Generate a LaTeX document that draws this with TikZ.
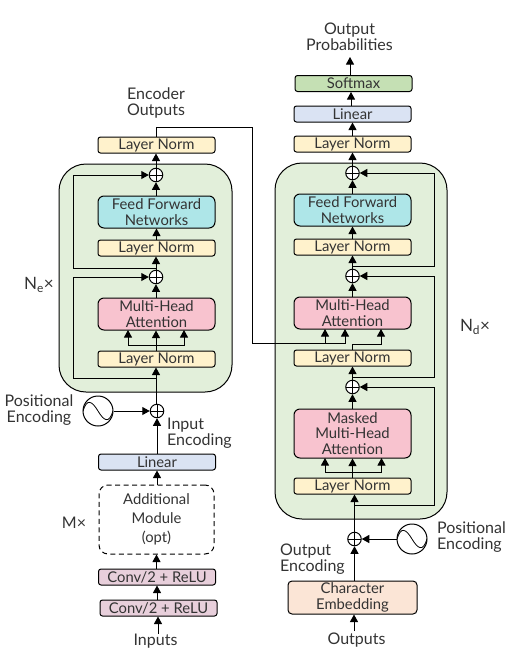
\documentclass[tikz,border=0pt]{standalone}
\usepackage{fontspec}
\setmainfont{Lato}
\usetikzlibrary{arrows.meta,calc}
\definecolor{lnfill}{HTML}{FFF2CC}
\definecolor{fffill}{HTML}{AEE6E8}
\definecolor{mhfill}{HTML}{F8C3CF}
\definecolor{lifill}{HTML}{DAE3F3}
\definecolor{smfill}{HTML}{C5E0B4}
\definecolor{grfill}{HTML}{E2EFDA}
\definecolor{cvfill}{HTML}{E8CFDB}
\definecolor{chfill}{HTML}{FBE5D6}
\definecolor{txt}{HTML}{333333}
\tikzset{
  every node/.style={text=txt,font=\fontsize{14.8}{15.5}\selectfont,align=center,inner sep=0pt},
  lab/.style={font=\fontsize{16}{16}\selectfont},
  box/.style={draw=black,line width=1pt,rounded corners=2.5pt,minimum width=117pt,minimum height=16pt},
  ln/.style={box,fill=lnfill},
  big/.style={box,rounded corners=6pt,minimum height=32pt},
  ffn/.style={big,fill=fffill},
  mha/.style={big,fill=mhfill},
  lin/.style={box,fill=lifill},
  conv/.style={box,fill=cvfill},
  group/.style={draw=black,line width=1pt,fill=grfill,rounded corners=27pt},
  addb/.style={circle,draw=black,line width=1pt,fill=white,minimum size=13.5pt,
    path picture={\draw[line width=0.8pt] (path picture bounding box.north)--(path picture bounding box.south)
      (path picture bounding box.west)--(path picture bounding box.east);}},
  sine/.style={circle,draw=black,line width=1pt,fill=white,minimum size=30pt,
    path picture={\draw[line width=0.8pt] ($(path picture bounding box.center)+(-15,0)$)
      .. controls +(4,-13) and +(-6,-10) .. (path picture bounding box.center)
      .. controls +(6,10) and +(-4,13) .. ($(path picture bounding box.center)+(15,0)$);}},
  arr/.style={line width=1pt,-{Triangle[length=7.5pt,width=8pt]}},
  wire/.style={line width=1pt},
}
\begin{document}
\begin{tikzpicture}[x=1pt,y=-1pt]
\useasboundingbox (0,0) rectangle (505,662);
% groups
\node[group,minimum width=173pt,minimum height=228pt] (encg) at (145.5,278) {};
\node[group,minimum width=172pt,minimum height=356pt] (decg) at (361,341) {};
% encoder
\node[ln] (e5) at (156.5,145) {Layer Norm};
\node[addb] (ep2) at (156,175) {};
\node[ffn] (effn) at (156.5,212) {Feed Forward\\Networks};
\node[ln] (e4) at (156.5,248) {Layer Norm};
\node[addb] (ep1) at (156,277) {};
\node[mha] (emha) at (156.5,314) {Multi-Head\\Attention};
\node[ln] (e3) at (156.5,359) {Layer Norm};
\node[addb] (epe) at (157,411) {};
\node[sine] (esin) at (98,411) {};
\node[lin] (elin) at (157,462) {Linear};
\node[box,dash pattern=on 5pt off 3.5pt,rounded corners=9pt,minimum height=69pt,minimum width=115pt] (eadd) at (156.5,519.5) {Additional\\[3.5pt]Module\\[3.5pt](opt)};
\node[conv] (ec2) at (157,577) {Conv/2 + ReLU};
\node[conv] (ec1) at (158.5,608) {Conv/2 + ReLU};
\node[lab] (einp) at (155.5,641.5) {Inputs};
\node[lab] (eout) at (156,103) {Encoder\\Outputs};
\node[lab] (epos) at (39,410.5) {Positional\\Encoding};
\node[lab,anchor=west] (einc) at (167,433.5) {\parbox{80pt}{Input\\Encoding}};
\node[lab] (em) at (74,523) {M×};
\node (ene) at (39,285) {\fontsize{17}{17}\selectfont N\textsubscript{e}×};
% decoder
\node[lab] (dout) at (349.5,37) {Output\\Probabilities};
\node[box,fill=smfill] (dsm) at (353.5,83.5) {Softmax};
\node[lin] (dlin) at (352.5,114) {Linear};
\node[ln] (d6) at (352.5,144) {Layer Norm};
\node[addb] (dp3) at (352.5,173) {};
\node[ffn] (dffn) at (352.5,210) {Feed Forward\\Networks};
\node[ln] (d5) at (352.5,247) {Layer Norm};
\node[addb] (dp2) at (352.5,276) {};
\node[mha] (dmha) at (352.5,313) {Multi-Head\\Attention};
\node[ln] (d4) at (352.5,358) {Layer Norm};
\node[addb] (dp1) at (352.5,387) {};
\node[mha,minimum height=49pt] (dmask) at (352.5,433.5) {Masked\\Multi-Head\\Attention};
\node[ln] (d3) at (352.5,486) {Layer Norm};
\node[addb] (dpe) at (354.5,539) {};
\node[sine] (dsin) at (412,539) {};
\node[box,fill=chfill,rounded corners=4pt,minimum width=129pt,minimum height=33pt] (dch) at (352.5,597.5) {Character\\Embedding};
\node[lab] (dinp) at (356.5,640.5) {Outputs};
\node[lab,anchor=west] (dposl) at (437,537) {\parbox{80pt}{Positional\\Encoding}};
\node[lab,anchor=west] (dinc) at (280,559) {\parbox{80pt}{Output\\Encoding}};
\node (dnd) at (475,327) {\fontsize{17}{17}\selectfont N\textsubscript{d}×};
% coordinates
\coordinate (es1) at (156,268);
\coordinate (es2) at (156,378);
\coordinate (ef) at (156,345);
\coordinate (cm) at (252.5,343);
\coordinate (ds1) at (352.5,266);
\coordinate (ds2) at (352.5,377);
\coordinate (ds3) at (354.5,505);
\coordinate (dt) at (352.5,344);
% encoder wires
\draw[arr] (ep2.north) -- (ep2.north |- e5.south);
\draw[arr] (effn.north -| ep2) -- (ep2.south);
\draw[arr] (e4.north -| effn) -- (effn.south);
\draw[arr] (ep1.north) -- (ep1.north |- e4.south);
\draw[arr] (emha.north -| ep1) -- (ep1.south);
\draw[arr] (e3.north -| ep1) -- (ep1 |- emha.south);
\draw[arr] (es1) -| (73,175) -- (ep2.west);
\draw[arr] (es2) -| (73,277) -- (ep1.west);
\draw[arr] (ef) -| (128,330);
\draw[arr] (ef) -| (184,330);
\draw[arr] (epe.north -| ep1) -- (ep1 |- e3.south);
\draw[arr] (esin.east) -- (epe.west);
\draw[arr] (elin.north -| epe) -- (epe.south);
\draw[arr] (eadd.north -| elin) -- (elin.south);
\draw[arr] (ec2.north -| eadd) -- (eadd.south);
\draw[arr] (ec1.north -| ec2) -- (ec2.south);
\draw[arr] (158,634) -- (ec1.south -| 158,0);
% cross connection
\draw[wire] (e5.north -| ep2) |- (252.5,127) -- (cm) -- (325,343);
\draw[arr] (cm) -| (325,329);
\draw[arr] (325,343) -| (345,329);
\draw[wire] (d4.north) -- (dt);
\draw[arr] (dt) -| (381,329);
% decoder wires
\draw[arr] (350,75.5) -- (350,57);
\draw[arr] (dlin.north -| 351,0) -- (dsm.south -| 351,0);
\draw[arr] (d6.north) -- (dlin.south);
\draw[arr] (dp3.north) -- (d6.south);
\draw[arr] (dffn.north) -- (dp3.south);
\draw[arr] (d5.north) -- (dffn.south);
\draw[arr] (dp2.north) -- (d5.south);
\draw[arr] (dmha.north) -- (dp2.south);
\draw[arr] (dp1.north) -- (d4.south);
\draw[arr] (dmask.north) -- (dp1.south);
\draw[arr] (d3.north) -- (dmask.south);
\draw[arr] (ds1) -| (434,173) -- (dp3.east);
\draw[arr] (ds2) -| (434,276) -- (dp2.east);
\draw[arr] (ds3) -| (434,387) -- (dp1.east);
\draw[arr] (352.5,472) -| (325,458);
\draw[arr] (352.5,472) -| (381.5,458);
\draw[arr] (dpe.north) -- (dpe.north |- d3.south);
\draw[arr] (dsin.west) -- (dpe.east);
\draw[arr] (dch.north -| dpe) -- (dpe.south);
\draw[arr] (354,631) -- (dch.south -| 354,0);
\end{tikzpicture}
\end{document}
